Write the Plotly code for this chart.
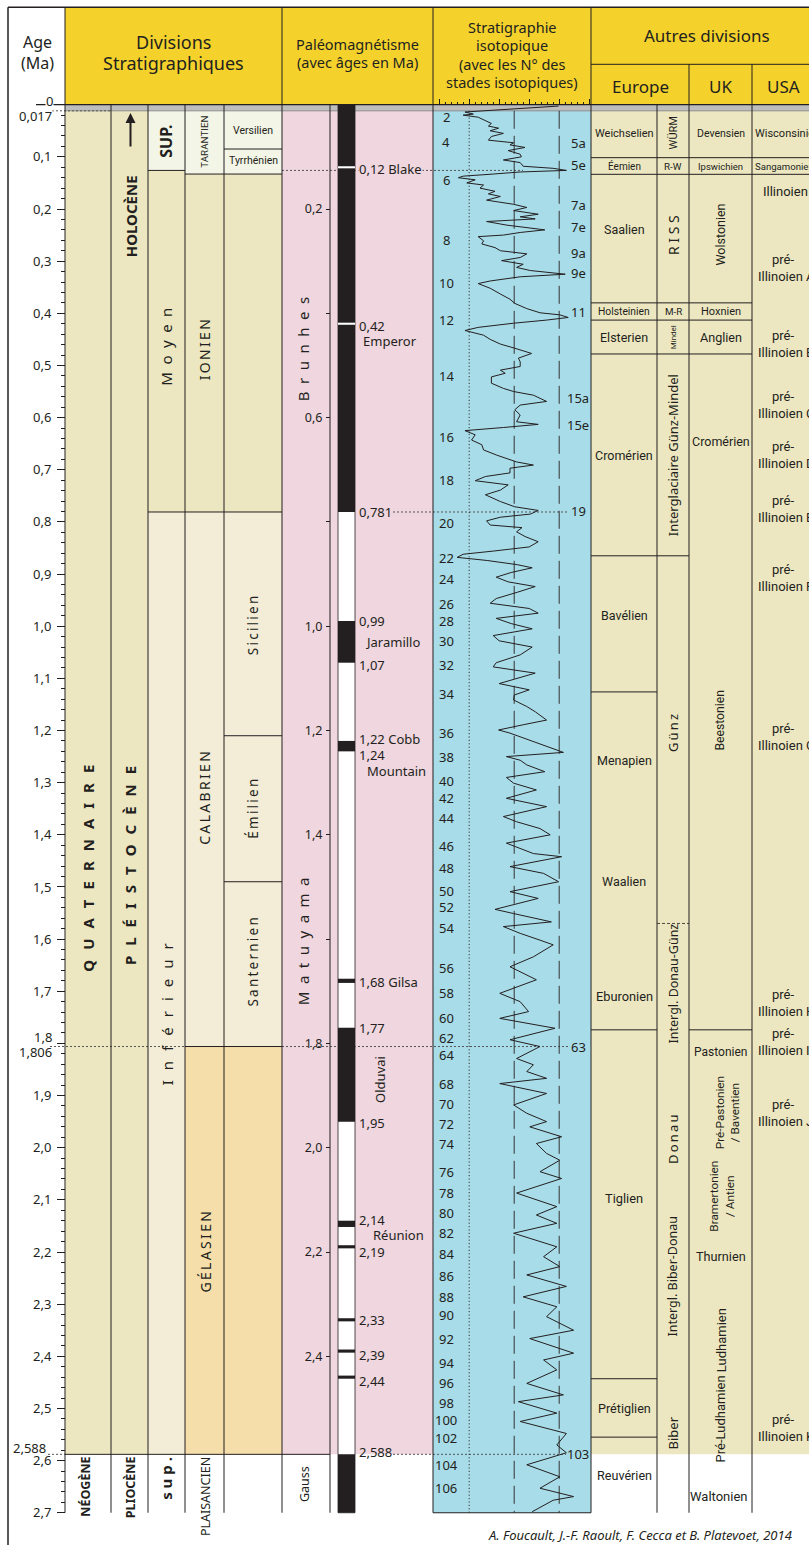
import plotly.graph_objects as go

W, H = 809, 1545
Y0, PPM = 104.7, 521.5            # header base row (px) and pixels per Ma
AGE_TOP = -Y0 / PPM
AGE_BOTTOM = (H - Y0) / PPM
HOLO = 0.0117                      # base of the Holocene band
NEO = 2.588                        # Quaternary / Neogene boundary
BASE = 2.7                         # bottom of the time scale

# ---------------------------------------------------------------- data
age_major = [round(0.1 * i, 1) for i in range(28)]
age_major_text = ["" if v in (0.0, 1.8) else f"{v:.1f}".replace(".", ",") for v in age_major]
age_minor = [round(0.02 * i, 2) for i in range(1, 135) if i % 5]

pm_ticks = [round(0.2 * i, 1) for i in range(1, 13)]
pm_ticktext = ["" if v in (0.4, 0.8, 1.6) else f"{v:.1f}".replace(".", ",") for v in pm_ticks]

normal_top = [0.0, 0.99, 1.22, 1.676, 1.77, 2.14, 2.187, 2.327, 2.387, 2.437, 2.588]
normal_base = [0.781, 1.07, 1.24, 1.684, 1.95, 2.152, 2.193, 2.333, 2.393, 2.443, 2.7]
excursion_age = [0.12, 0.42]

reversal_text = ["0,12 Blake", "0,42", "0,781", "0,99", "1,07", "1,22 Cobb", "1,24",
                 "1,68 Gilsa", "1,77", "1,95", "2,14", "2,19", "2,33", "2,39", "2,44", "2,588"]
reversal_at = [0.124, 0.424, 0.781, 0.99, 1.075, 1.217, 1.247,
               1.682, 1.771, 1.953, 2.138, 2.2, 2.33, 2.398, 2.447, 2.583]
event_names = ["Emperor", "Jaramillo", "Mountain", "Réunion"]
event_at = [0.454, 1.03, 1.278, 2.168]

iso_age = [
    0.0026, 0.009, 0.014, 0.018, 0.020, 0.024, 0.029, 0.036, 0.041, 0.045, 0.050, 0.055, 0.061,
    0.068, 0.073, 0.077, 0.082, 0.088, 0.095, 0.100, 0.106, 0.111, 0.118, 0.122, 0.126, 0.129,
    0.133, 0.137, 0.140, 0.144, 0.150, 0.154, 0.160, 0.166, 0.171, 0.176, 0.183, 0.191, 0.197,
    0.203, 0.210, 0.215, 0.219, 0.224, 0.231, 0.235, 0.240, 0.245, 0.250, 0.253, 0.261, 0.267,
    0.274, 0.280, 0.286, 0.293, 0.299, 0.306, 0.312, 0.318, 0.325, 0.330, 0.338, 0.343, 0.352,
    0.363, 0.373, 0.381, 0.391, 0.399, 0.403, 0.408, 0.413, 0.419, 0.427, 0.433, 0.442, 0.450,
    0.459, 0.467, 0.477, 0.486, 0.493, 0.502, 0.509, 0.515, 0.522, 0.534, 0.544, 0.550, 0.557,
    0.569, 0.576, 0.585, 0.595, 0.608, 0.613, 0.619, 0.625, 0.633, 0.643, 0.652, 0.662, 0.672,
    0.685, 0.691, 0.697, 0.706, 0.713, 0.721, 0.729, 0.739, 0.748, 0.761, 0.771, 0.778, 0.785,
    0.791, 0.798, 0.806, 0.811, 0.819, 0.828,
    0.838, 0.848, 0.856, 0.862, 0.868, 0.874, 0.882, 0.888, 0.897, 0.906, 0.915, 0.924, 0.935,
    0.947, 0.956, 0.966, 0.975, 0.985, 0.995, 1.005, 1.018, 1.028, 1.040, 1.055, 1.070, 1.078,
    1.090, 1.100, 1.110, 1.122, 1.132,
    1.1415, 1.154, 1.164, 1.180, 1.189, 1.199, 1.205, 1.218, 1.231, 1.242, 1.250, 1.257, 1.266,
    1.279, 1.290, 1.301, 1.314, 1.330, 1.346, 1.365, 1.375, 1.388, 1.400, 1.416, 1.436, 1.442,
    1.461, 1.474, 1.490, 1.509, 1.522, 1.543, 1.551, 1.567, 1.576, 1.589, 1.602, 1.611, 1.634,
    1.653, 1.678, 1.704, 1.720, 1.739, 1.752, 1.771, 1.793, 1.806, 1.829, 1.841, 1.854, 1.867,
    1.877, 1.896, 1.918, 1.934, 1.950, 1.960, 1.979,
    1.992, 2.011, 2.024, 2.046, 2.059, 2.087, 2.100, 2.113, 2.129, 2.145, 2.164, 2.190, 2.209,
    2.228, 2.244, 2.266, 2.286, 2.305, 2.324, 2.350, 2.366, 2.394, 2.407, 2.426, 2.452, 2.474,
    2.487, 2.509, 2.525, 2.548, 2.570, 2.585, 2.608, 2.631, 2.653, 2.669, 2.676, 2.698,
]
iso_d18o = [
    3.51, 4.35, 5.07, 4.93, 5.10, 4.85, 4.76, 4.63, 4.68, 4.51, 4.65, 4.43, 4.63,
    4.68, 4.26, 4.32, 4.07, 4.35, 4.15, 4.13, 4.43, 4.15, 4.10, 3.60, 3.38, 4.15,
    4.60, 5.10, 5.18, 4.90, 5.04, 4.76, 4.82, 4.57, 4.68, 4.48, 4.71, 4.26, 4.04,
    4.26, 3.85, 4.15, 3.90, 4.71, 4.37, 4.07, 3.74, 4.15, 4.43, 4.85, 4.76, 4.79,
    4.57, 4.48, 4.04, 4.15, 4.46, 4.10, 4.21, 3.98, 3.40, 4.15, 4.65, 4.85, 4.65,
    4.48, 4.32, 4.24, 4.04, 3.82, 3.49, 3.35, 3.71, 4.26, 4.85, 5.07, 4.76, 4.65,
    4.48, 4.24, 3.96, 4.18, 4.15, 4.15, 4.48, 4.40, 4.63, 4.63, 4.43, 4.26, 3.93,
    3.71, 4.15, 4.24, 4.15, 4.21, 3.85, 4.43, 5.07, 4.90, 4.96, 4.79, 4.76, 4.54,
    4.21, 3.93, 4.32, 4.32, 4.73, 4.90, 4.35, 4.48, 4.73, 4.48, 4.24, 3.85, 3.98,
    4.48, 4.71, 4.65, 4.12, 4.21, 4.07,
    3.85, 4.00, 4.60, 5.10, 5.20, 4.70, 4.20, 3.95, 4.30, 4.55, 4.35, 3.90, 4.20,
    4.55, 4.65, 4.00, 3.85, 4.55, 4.30, 3.95, 4.60, 4.50, 3.95, 4.15, 4.55, 4.60,
    3.90, 4.20, 4.50, 4.00, 4.25,
    4.26, 4.04, 3.90, 3.71, 4.10, 4.51, 4.32, 4.01, 3.71, 3.43, 4.38, 4.15, 4.04,
    3.74, 4.38, 4.26, 3.88, 4.38, 3.71, 4.43, 4.21, 3.82, 3.65, 4.38, 3.93, 3.46,
    4.32, 3.76, 3.51, 4.32, 3.85, 4.57, 4.26, 3.63, 4.43, 4.15, 3.82, 3.60, 3.93,
    4.32, 3.88, 4.49, 4.15, 4.01, 4.49, 3.57, 4.32, 3.82, 4.21, 3.93, 4.04, 3.71,
    4.49, 3.71, 4.26, 4.04, 3.71, 3.99, 3.46,
    3.88, 3.71, 3.49, 3.82, 3.46, 4.21, 3.88, 3.54, 3.88, 3.54, 4.26, 3.54, 3.76,
    3.49, 4.04, 3.38, 4.10, 3.54, 3.71, 3.26, 3.99, 3.26, 3.76, 3.54, 4.04, 3.43,
    4.18, 3.54, 4.15, 3.38, 3.54, 3.38, 4.04, 3.49, 3.82, 3.26, 3.60, 3.95,
]

stage_left = ["2", "4", "6", "8", "10", "12", "14", "16", "18", "20", "22", "24", "26", "28",
              "30", "32", "34", "36", "38", "40", "42", "44", "46", "48", "50", "52", "54",
              "56", "58", "60", "62", "64", "68", "70", "72", "74", "76", "78", "80", "82",
              "84", "86", "88", "90", "92", "94", "96", "98", "100", "102", "104", "106"]
stage_left_at = [0.023, 0.071, 0.144, 0.26, 0.341, 0.413, 0.521, 0.637, 0.72, 0.803, 0.87,
                 0.91, 0.958, 0.99, 1.028, 1.075, 1.13, 1.205, 1.251, 1.297, 1.330, 1.368,
                 1.421, 1.464, 1.508, 1.539, 1.579, 1.656, 1.704, 1.752, 1.790, 1.822, 1.877,
                 1.916, 1.955, 1.993, 2.046, 2.086, 2.126, 2.164, 2.204, 2.246, 2.286, 2.321,
                 2.367, 2.413, 2.452, 2.490, 2.522, 2.556, 2.608, 2.652]
stage_right = ["5a", "5e", "7a", "7e", "9a", "9e", "11", "15a", "15e", "19", "63", "103"]
stage_right_at = [0.074, 0.1157, 0.192, 0.234, 0.284, 0.323, 0.397, 0.563, 0.614, 0.78,
                  1.806, 2.588]

# stratigraphic units: top and base of each box
sub_top = [HOLO, 0.126, 0.781]
sub_base = [0.126, 0.781, NEO]
stage_top = [HOLO, 0.133, 0.781, 1.806]
stage_base = [0.133, 0.781, 1.806, NEO]
substage_top = [HOLO, 0.085, 0.133, 0.781, 1.21, 1.49, 1.806]
substage_base = [0.085, 0.133, 0.781, 1.21, 1.49, 1.806, NEO]

eu_bounds = [0.1016, 0.1335, 0.38, 0.413, 0.478, 0.865, 1.126, 1.774, 2.443, 2.555]
eu_names = ["Weichselien", "Éemien", "Saalien", "Holsteinien", "Elsterien", "Cromérien",
            "Bavélien", "Menapien", "Waalien", "Eburonien", "Tiglien", "Prétiglien", "Reuvérien"]
eu_at = [0.055, 0.118, 0.24, 0.397, 0.446, 0.672, 0.98, 1.257, 1.489, 1.71, 2.097, 2.50, 2.628]

alp_bounds = [0.1016, 0.1335, 0.38, 0.413, 0.478, 0.865]
alp_dashed = [1.57]
alp_names = ["WÜRM", "R-W", "RISS", "M-R", "Mindel", "Interglaciaire Günz-Mindel", "Günz",
             "Intergl. Donau-Günz", "Donau", "Intergl. Biber-Donau", "Biber"]
alp_at = [0.055, 0.118, 0.25, 0.397, 0.446, 0.672, 1.205, 1.685, 1.985, 2.247, 2.548]

uk_bounds = [0.1016, 0.1335, 0.38, 0.413, 0.478, 1.774]
uk_names = ["Devensien", "Ipswichien", "Wolstonien", "Hoxnien", "Anglien", "Cromérien",
            "Beestonien", "Pastonien", "Pré-Pastonien<br>/ Baventien", "Bramertonien<br>/ Antien",
            "Thurnien", "Ludhamien", "Pré-Ludhamien", "Waltonien"]
uk_at = [0.055, 0.118, 0.25, 0.397, 0.446, 0.646, 1.18, 1.816, 1.934, 2.094, 2.209, 2.37,
         2.52, 2.669]

us_bounds = [0.1016, 0.1335]
us_names = ["Wisconsinien", "Sangamonien", "Illinoien"]
us_at = [0.055, 0.118, 0.167]
pre_illinoian = ["A", "B", "C", "D", "E", "F", "G", "H", "I", "J", "K"]
pre_illinoian_at = [0.314, 0.459, 0.576, 0.672, 0.775, 0.907, 1.213, 1.723, 1.797, 1.934, 2.537]

# ---------------------------------------------------------------- style
SANS = "Noto Sans, Open Sans, DejaVu Sans, sans-serif"
COND = "Roboto, Noto Sans, sans-serif"
INK = "#231F20"
YELLOW = "#F4D22B"
KHAKI = "#EDE7C1"
CREAM = "#F3ECD6"
ORANGE = "#F5DEAA"
PALE = "#F3F5E6"
PINK = "#EFD6DF"
BLUE = "#A8DCE8"
GREY = "#BDBDBD"
XR = W + 40                     # right end of rows (clipped by the page)
EN = "\u2002"
THIN = "\u2009"


def row(p):
    """pixel row -> age-axis units (used for the header block)"""
    return (p - Y0) / PPM


shapes, annotations = [], []


def box(x0, x1, a0, a1, fill, line=None):
    shapes.append(dict(type="rect", xref="x", yref="y", x0=x0, x1=x1, y0=a0, y1=a1,
                       fillcolor=fill, line=line or dict(width=0), layer="below"))


def hl(x0, x1, a, color=INK, width=1, dash="solid", layer="below"):
    shapes.append(dict(type="line", xref="x", yref="y", x0=x0, x1=x1, y0=a, y1=a,
                       line=dict(color=color, width=width, dash=dash), layer=layer))


def vl(x, a0, a1, color=INK, width=1, dash="solid", xref="x", layer="below"):
    shapes.append(dict(type="line", xref=xref, yref="y", x0=x, x1=x, y0=a0, y1=a1,
                       line=dict(color=color, width=width, dash=dash), layer=layer))


def put(x, a, s, size=13, angle=0, family=SANS, xanchor="center", yanchor="middle",
        yshift=0, xshift=0, bg=None, color=INK):
    d = dict(x=x, y=a, xref="x", yref="y", text=s, showarrow=False, textangle=angle,
             xanchor=xanchor, yanchor=yanchor, yshift=yshift, xshift=xshift, borderpad=0,
             font=dict(family=family, size=size, color=color))
    if bg:
        d["bgcolor"] = bg
    annotations.append(d)


def spaced(s, sep=THIN):
    return sep.join(s)


# ---------------------------------------------------------------- header
box(8, 65, row(7), 0, "white")
box(65, XR, row(7), 0, YELLOW)

put(37, row(42), "Age", 16)
put(37, row(63), "(Ma)", 16)
put(173.5, row(42), "Divisions", 18)
put(173.5, row(63), "Stratigraphiques", 18)
put(357.5, row(44), "Paléomagnétisme", 14.5)
put(357.5, row(62), "(avec âges en Ma)", 14.5)
for i, t in enumerate(["Stratigraphie", "isotopique", "(avec les N° des", "stades isotopiques)"]):
    put(512, row(27 + 18.3 * i), t, 14.5)
put(707, row(35), "Autres divisions", 17)
put(640, row(86), "Europe", 17)
put(720.5, row(86), "UK", 17)
put(783, row(86), "USA", 17)

# ---------------------------------------------------------------- column backgrounds
box(65, XR, 0, HOLO, GREY)
box(65, 148, HOLO, NEO, KHAKI)
for t, b, f in zip(sub_top, sub_base, [PALE, KHAKI, CREAM]):
    box(148, 185, t, b, f)
for t, b, f in zip(stage_top, stage_base, [PALE, KHAKI, CREAM, ORANGE]):
    box(185, 224, t, b, f)
for t, b, f in zip(substage_top, substage_base, [PALE, PALE, KHAKI, CREAM, CREAM, CREAM, ORANGE]):
    box(224, 282, t, b, f)
box(282, 433, HOLO, NEO, PINK)
box(433, 591, HOLO, BASE, BLUE)
box(591, XR, HOLO, NEO, KHAKI)
hl(65, XR, HOLO, color="#8A8A8A", width=1)

# polarity column frame
box(338, 355, 0, BASE, "white", line=dict(color=INK, width=0.8))

# ---------------------------------------------------------------- horizontal boundaries
for a in sub_base[:2]:
    hl(148, 185, a)
for a in stage_base[:3]:
    hl(185, 224, a)
for a in substage_base[:6]:
    hl(224, 282, a)
hl(65, 330, NEO)
for a in eu_bounds:
    hl(591, 657, a)
for a in alp_bounds:
    hl(657, 689, a)
for a in alp_dashed:
    hl(657, 689, a, dash="3px,2px", width=0.8)
for a in uk_bounds:
    hl(689, 752, a)
for a in us_bounds:
    hl(752, XR, a)
hl(433, 591, BASE)

# dotted reference levels
DOT = "2px,2px"
hl(52, 111, HOLO, dash=DOT, color="#555")
hl(282, 523, 0.126, dash=DOT, color="#555")
hl(393, 568, 0.781, dash=DOT, color="#555")
hl(50, 185, 1.806, dash=DOT, color="#555")
hl(282, 570, 1.806, dash=DOT, color="#555")
hl(48, 65, NEO, dash=DOT, color="#555")
hl(393, 566, NEO, dash=DOT, color="#555")

# isotope reference verticals (d18O units)
vl(5.0, HOLO, BASE, xref="x2", dash="1.2px,2.2px", color="#333")
vl(4.25, HOLO, BASE, xref="x2", dash="18px,7px", color="#333")
vl(3.5, HOLO, BASE, xref="x2", dash="18px,7px", color="#333")

# ---------------------------------------------------------------- frame / verticals
hl(8, XR, row(7.3), width=1.5, layer="above")
vl(8, row(7.3), AGE_BOTTOM + 0.05, width=1.5, layer="above")
hl(36, XR, 0, width=1.2, layer="above")
for x in (65, 282, 433, 591):
    vl(x, row(7.3), BASE, layer="above")
hl(591, XR, row(64.3), layer="above")
for x in (689, 752):
    vl(x, row(64.3), BASE, layer="above")
for x in (111, 148, 185, 224, 330, 657):
    vl(x, 0, BASE, layer="above")

# ---------------------------------------------------------------- stratigraphic labels
WIDE = EN + THIN
put(88, 1.465, "<b>" + WIDE.join("QUATERNAIRE") + "</b>", 15, -90)
put(130, 1.46, "<b>" + WIDE.join("PLÉISTOCÈNE") + "</b>", 15, -90)
put(130.5, 0.215, "<b>HOLOCÈNE</b>", 15, -90)
annotations.append(dict(x=130.5, y=0.016, ax=130.5, ay=0.083, xref="x", yref="y",
                        axref="x", ayref="y", text="", showarrow=True, arrowhead=2,
                        arrowsize=1, arrowwidth=2, arrowcolor=INK))
put(166.5, 0.07, "<b>SUP.</b>", 16, -90)
put(166.5, 0.465, EN.join("Moyen"), 15, -90)
put(166.5, 1.745, WIDE.join("Inférieur"), 15, -90)
put(204.5, 0.072, "TARANTIEN", 9.8, -90, family=COND)
put(204.5, 0.47, spaced("IONIEN"), 14, -90)
put(204.5, 1.33, spaced("CALABRIEN"), 14, -90)
put(204.5, 2.2, spaced("GÉLASIEN"), 14, -90)
put(253, 0.05, "Versilien", 10.5, family=COND)
put(253, 0.107, "Tyrrhénien", 10.5, family=COND)
put(253, 1.0, spaced("Sicilien"), 13.5, -90)
put(253, 1.35, spaced("Émilien"), 13.5, -90)
put(253, 1.645, spaced("Santernien"), 13.5, -90)

put(85.5, 2.651, "<b>NÉOGÈNE</b>", 12.5, -90)
put(130, 2.651, "<b>PLIOCÈNE</b>", 12.5, -90)
put(166.5, 2.634, "<b>" + " ".join("sup.") + "</b>", 15, -90)
put(205, 2.67, "PLAISANCIEN", 12.5, -90)

# ---------------------------------------------------------------- palaeomagnetism labels
put(302.5, 0.47, EN.join("Brunhes"), 15, -90)
put(302.5, 1.605, EN.join("Matuyama"), 15, -90)
put(304, 2.645, "Gauss", 12.5, -90)
for t, a in zip(reversal_text, reversal_at):
    put(358, a, t, 13, xanchor="left", bg=PINK if t.endswith("Blake") else None)
for t, a, x in zip(event_names, event_at, (362, 364, 366, 372)):
    put(x, a, t, 13, xanchor="left")
put(380, 1.87, "Olduvai", 13, -90)

# ---------------------------------------------------------------- isotope stage numbers
for t, a in zip(stage_left, stage_left_at):
    put(446, a, t, 13)
for t, a in zip(stage_right, stage_right_at):
    put(578, a, t, 13)

# ---------------------------------------------------------------- other divisions
eu_size = [11, 10, 12.5, 10.3, 12.5, 12.5, 12.5, 12.5, 12.5, 12.8, 12.8, 12.6, 12.6]
for t, a, s in zip(eu_names, eu_at, eu_size):
    put(624, a, t, s, family=COND)

alp_style = [(11, COND, True), (9.8, COND, False), (14, SANS, True), (9.8, COND, False),
             (8, COND, True), (13, SANS, True), (13, SANS, True), (12.5, SANS, True),
             (13, SANS, True), (12.5, SANS, True), (13, SANS, True)]
for t, a, (s, fam, rot) in zip(alp_names, alp_at, alp_style):
    txt = " ".join(t) if t == "RISS" else (spaced(t) if t in ("Günz", "Donau") else t)
    put(673, a, txt, s, -90 if rot else 0, family=fam)

uk_style = [(10.5, 0), (9.5, 0), (12.5, -90), (11, 0), (12.6, 0), (12.5, 0), (12.2, -90),
            (12, 0), (11.8, -90), (11.8, -90), (12.7, 0), (13, -90), (13, -90), (13, 0)]
uk_x = [720.5, 720.5, 720.5, 720.5, 720.5, 720.5, 720.5, 720.5, 727, 722, 720.5, 721.5,
        720.5, 719]
for t, a, (s, ang), x in zip(uk_names, uk_at, uk_style, uk_x):
    put(x, a, t, s, ang, family=COND)

put(753.5, us_at[0], us_names[0], 11, family=COND, xanchor="left")
put(754, us_at[1], us_names[1], 9.6, family=COND, xanchor="left")
put(785, us_at[2], us_names[2], 13, family=COND)
for k, a in zip(pre_illinoian, pre_illinoian_at):
    put(783, a, "pré-", 13, family=COND, yshift=8.5)
    put(757, a, "Illinoien " + k, 13, family=COND, xanchor="left", yshift=-8.5)

# ---------------------------------------------------------------- age axis extras
put(49, 0.0, "0", 13, yshift=4, bg="white")
put(53, 0.021, "0,017", 13, xanchor="right")
put(53, 1.8, "1,8", 13, xanchor="right", yshift=6)
put(53, 1.806, "1,806", 13, xanchor="right", yshift=-5)
put(47, 2.582, "2,588", 13, xanchor="right", yshift=3)

# credit line
put(487, row(1535), "<i>A. Foucault, J.-F. Raoult, F. Cecca et B. Platevoet, 2014</i>", 13,
    xanchor="left")

# ---------------------------------------------------------------- traces
fig = go.Figure()
fig.add_trace(go.Bar(
    x=[346.5] * len(normal_top), base=normal_top,
    y=[b - t for t, b in zip(normal_top, normal_base)],
    width=17, marker=dict(color=INK, line=dict(width=0)),
    xaxis="x", yaxis="y", hoverinfo="skip", showlegend=False))
fig.add_trace(go.Bar(
    x=[346.5] * len(excursion_age), base=[a - 0.002 for a in excursion_age],
    y=[0.004] * len(excursion_age), width=17, marker=dict(color="white", line=dict(width=0)),
    xaxis="x", yaxis="y", hoverinfo="skip", showlegend=False))
fig.add_trace(go.Scatter(
    x=iso_d18o, y=iso_age, mode="lines", line=dict(color=INK, width=1),
    xaxis="x2", yaxis="y", hoverinfo="skip", showlegend=False))
# paleomag tick axis needs a trace bound to it
fig.add_trace(go.Scatter(x=[None], y=[None], yaxis="y2", xaxis="x", showlegend=False,
                         hoverinfo="skip"))

iso_major = [3.0, 3.5, 4.0, 4.5, 5.0, 5.5]
iso_minor = [v for v in (round(3.1 + 0.1 * i, 1) for i in range(25)) if v not in iso_major]

fig.update_layout(
    width=W, height=H, margin=dict(l=0, r=0, t=0, b=0),
    paper_bgcolor="white", plot_bgcolor="rgba(0,0,0,0)", showlegend=False, barmode="overlay",
    xaxis=dict(range=[0, W], domain=[0, 1], visible=False, fixedrange=True),
    yaxis=dict(range=[AGE_BOTTOM, AGE_TOP], domain=[0, 1], anchor="free", position=65 / W,
               side="left", tickmode="array", tickvals=age_major, ticktext=age_major_text,
               ticks="outside", ticklen=8, tickwidth=1, tickcolor=INK,
               ticklabelstandoff=3, showgrid=False, zeroline=False, showline=False,
               tickfont=dict(family=SANS, size=13, color=INK), fixedrange=True,
               minor=dict(tickvals=age_minor, ticks="outside", ticklen=4, tickwidth=1,
                          tickcolor=INK, showgrid=False)),
    yaxis2=dict(range=[AGE_BOTTOM, AGE_TOP], overlaying="y", anchor="free",
                position=330 / W, side="left", tickmode="array", tickvals=pm_ticks,
                ticktext=pm_ticktext, ticks="outside", ticklen=4, tickwidth=1,
                tickcolor=INK, ticklabelstandoff=1, showgrid=False, zeroline=False,
                showline=False, tickfont=dict(family=SANS, size=12.5, color=INK),
                fixedrange=True),
    xaxis2=dict(domain=[433 / W, 591 / W], range=[5.603, 2.97], anchor="free",
                position=1 - Y0 / H, side="top", tickmode="array", tickvals=iso_major,
                ticks="outside", ticklen=6, tickwidth=1, tickcolor=INK,
                showticklabels=False, showgrid=False, zeroline=False, showline=False,
                fixedrange=True,
                minor=dict(tickvals=iso_minor, ticks="outside", ticklen=3, tickwidth=1,
                           tickcolor=INK, showgrid=False)),
    shapes=shapes, annotations=annotations,
)

fig.write_html("out.html")
